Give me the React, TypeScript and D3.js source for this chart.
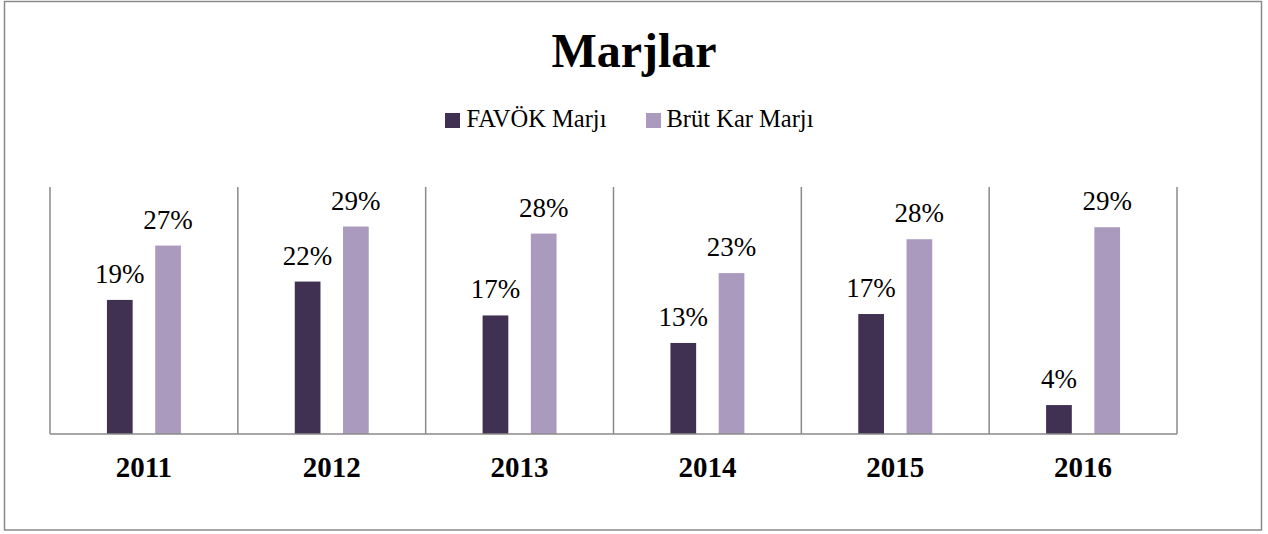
import React, { useEffect } from "react";
import * as d3 from "d3";

const categories = ["2011", "2012", "2013", "2014", "2015", "2016"];
const seriesNames = ["FAVÖK Marjı", "Brüt Kar Marjı"];
const favokValues = [0.19, 0.216, 0.168, 0.129, 0.17, 0.041];
const brutValues = [0.267, 0.294, 0.284, 0.228, 0.276, 0.293];
const seriesColors = ["#403152", "#AA9BBE"];
const title = "Marjlar";

const W = 1268;
const H = 534;
const plotLeft = 50;
const plotRight = 1177;
const plotTop = 187;
const plotBottom = 434;
const serif = "'Liberation Serif', 'DejaVu Serif', serif";
const lineColor = "#8a8a8a";

export default function App() {
  useEffect(() => {
    document.body.style.margin = "0";
  }, []);

  const x0 = d3.scaleBand<string>().domain(categories).range([plotLeft, plotRight]).paddingInner(0).paddingOuter(0);
  const x1 = d3
    .scaleBand<string>()
    .domain(seriesNames)
    .range([0, x0.bandwidth()])
    .paddingInner(0.467)
    .paddingOuter(1.18);
  const y = d3.scaleLinear().domain([0, 0.35]).range([plotBottom, plotTop]);
  const fmt = d3.format(".0%");
  const seriesValues = [favokValues, brutValues];

  const separators = [...categories.map((c) => x0(c) as number), plotRight];

  const legendItems = [
    { name: seriesNames[0], color: seriesColors[0], sx: 445, tx: 466.5 },
    { name: seriesNames[1], color: seriesColors[1], sx: 646, tx: 666.5 },
  ];

  return (
    <svg width={W} height={H} style={{ display: "block" }} xmlns="http://www.w3.org/2000/svg">
      <rect x={0} y={0} width={W} height={H} fill="#fff" />
      <rect x={4.5} y={1.5} width={1257} height={528.5} fill="none" stroke={lineColor} strokeWidth={1.5} />
      <text x={634} y={66.5} textAnchor="middle" fontFamily={serif} fontWeight="bold" fontSize={48} fill="#000">
        {title}
      </text>
      {legendItems.map((l) => (
        <g key={l.name}>
          <rect x={l.sx} y={113} width={15} height={15} fill={l.color} />
          <text x={l.tx} y={126.7} fontFamily={serif} fontSize={24.5} fill="#000">
            {l.name}
          </text>
        </g>
      ))}
      {separators.map((sx, i) => (
        <line key={"sep" + i} x1={sx} x2={sx} y1={plotTop} y2={plotBottom} stroke={lineColor} strokeWidth={1.5} />
      ))}
      {categories.map((c, ci) => (
        <g key={c} transform={`translate(${x0(c)},0)`}>
          {seriesNames.map((s, si) => {
            const v = seriesValues[si][ci];
            const bx = x1(s) as number;
            const bw = x1.bandwidth();
            return (
              <g key={s}>
                <rect x={bx} y={y(v)} width={bw} height={plotBottom - y(v)} fill={seriesColors[si]} />
                <text
                  x={bx + bw / 2}
                  y={y(v) - 17}
                  textAnchor="middle"
                  fontFamily={serif}
                  fontSize={27}
                  fill="#000"
                >
                  {fmt(v)}
                </text>
              </g>
            );
          })}
          <text
            x={x0.bandwidth() / 2}
            y={476.7}
            textAnchor="middle"
            fontFamily={serif}
            fontWeight="bold"
            fontSize={29}
            fill="#000"
          >
            {c}
          </text>
        </g>
      ))}
      <line x1={plotLeft} x2={plotRight} y1={plotBottom} y2={plotBottom} stroke={lineColor} strokeWidth={1.5} />
    </svg>
  );
}
